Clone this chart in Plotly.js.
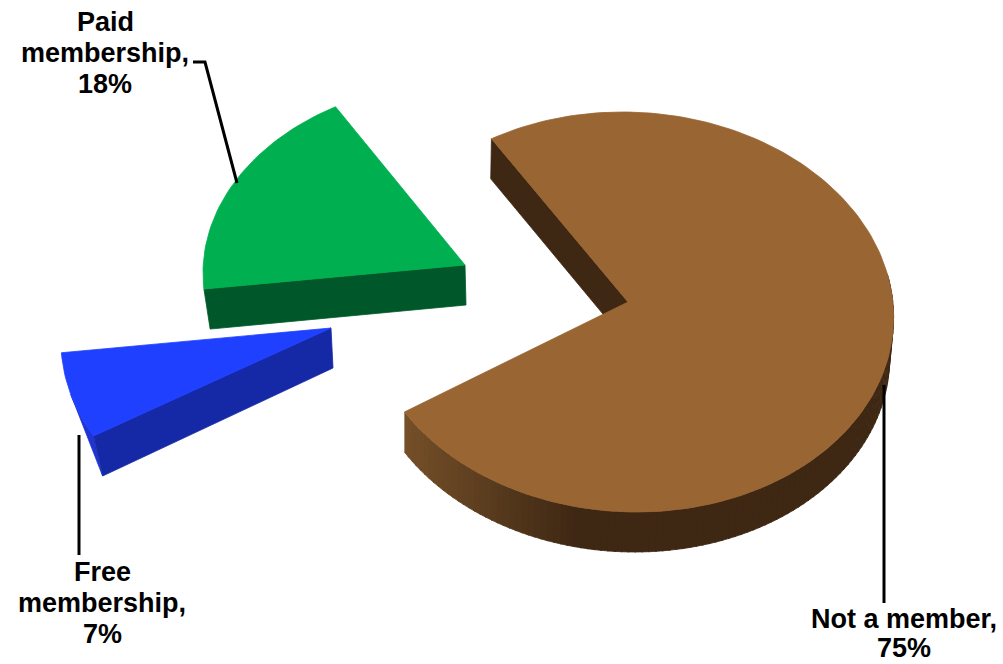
<!DOCTYPE html>
<html><head><meta charset="utf-8">
<script src="https://cdn.plot.ly/plotly-3.0.1.min.js"></script>
<style>html,body{margin:0;padding:0;background:#fff}#c{width:1003px;height:664px}</style>
</head><body><div id="c"></div>
<script>
// Data
const categories = ['Not a member', 'Free membership', 'Paid membership'];
const shares = [75, 7, 18];
const tickLabels = ['Not a member,<br>75%', 'Free<br>membership,<br>7%', 'Paid<br>membership,<br>18%'];

// Drawing style
const topColors = ['#996633', '#2040ff', '#00b050'];
const wallColors = ['#3e2713', '#1529a6', '#00582a'];
const START = 120, DEPTH = 40;
const placement = [
  {cx: 629.5, cy: 312, ax: 628, ay: 302, a: 264, b: 200, skew: 0.035, lean: 0.008, lx: -1.8},
  {cx: 326, cy: 336, ax: 331, ay: 328, a: 265, b: 200, skew: -0.03, lean: 0.03, lx: 2},
  {cx: 468, cy: 273, ax: 465, ay: 265, a: 265, b: 192, skew: 0, lean: 0.02, lx: 1}
];

const rad = d => d * Math.PI / 180;
const pt = (p, t) => { const dy = -p.b * Math.sin(rad(t));
  return [p.cx + p.a * Math.cos(rad(t)) + p.skew * dy, p.cy + dy]; };
const drop = (p, q) => [q[0] + p.lean * (p.ax - q[0]) + p.lx, q[1] + DEPTH];
function arc(p, t0, t1) { const n = Math.max(2, Math.ceil(Math.abs(t1 - t0) / 1.5)), o = [];
  for (let i = 0; i <= n; i++) o.push(pt(p, t0 + (t1 - t0) * i / n)); return o; }
function poly(pts, color, name) {
  return {type: 'scatter', mode: 'lines', x: pts.map(q => q[0]), y: pts.map(q => q[1]),
    fill: 'toself', fillcolor: color, line: {color: color, width: 0.8}, hoverinfo: 'skip',
    showlegend: false, name: name || ''};
}
function mix(c0, c1, f) { f = Math.min(1, Math.max(0, f));
  return 'rgb(' + c0.map((v, i) => Math.round(v + (c1[i] - v) * f)).join(',') + ')'; }

const total = shares.reduce((a, b) => a + b, 0);
const traces = [];
let angle = START;
const spans = shares.map(v => { const s = [angle, angle - v / total * 360]; angle = s[1]; return s; });

shares.forEach((v, i) => {
  const p = placement[i], [t0, t1] = spans[i];
  const apex = [p.ax, p.ay], s = pt(p, t0);
  if (i === 0) {
    // cut wall
    traces.push(poly([s, apex, drop(p, apex), drop(p, s), s], wallColors[0], categories[i]));
    // outer rim, shaded in strips
    const a0 = 360 + t1, a1 = 370, step = 1.5;
    for (let a = a0; a < a1; a += step) {
      const top = arc(p, a, a + step + 0.3), bot = top.map(q => drop(p, q)).reverse();
      traces.push(poly(top.concat(bot), mix([116, 79, 40], [62, 39, 19], (top[0][0] - 404) / 170), categories[i]));
    }
  } else if (i === 1) {
    const rimTop = arc(p, t0, t0 - 13);
    traces.push(poly(rimTop.concat([drop(p, s)]), '#1f34d2', categories[i]));
    traces.push(poly([s, apex, drop(p, apex), drop(p, s), s], wallColors[1], categories[i]));
  } else {
    traces.push(poly([s, apex, drop(p, apex), drop(p, s), s], wallColors[2], categories[i]));
  }
  traces.push(poly([apex].concat(arc(p, t0, t1), [apex]), topColors[i], categories[i]));
});

const leader = (xs, ys) => ({type: 'scatter', mode: 'lines', x: xs, y: ys,
  line: {color: '#000', width: 3}, hoverinfo: 'skip', showlegend: false});
traces.push(leader([193, 205, 237], [62, 62, 183]));
traces.push(leader([79, 79], [435, 555]));
traces.push(leader([884, 884], [385, 603]));

// one annotation per text line keeps the reference's tight line spacing
const notes = (text, x, y, gap) => text.split('<br>').map((t, k) => ({text: t, x, y: y + k * gap, xref: 'x', yref: 'y',
  showarrow: false, xanchor: 'center', yanchor: 'middle', align: 'center',
  font: {family: '"Liberation Sans", Arial, sans-serif', size: 27, color: '#000', weight: 700}}));

const layout = {
  width: 1003, height: 664, margin: {l: 0, r: 0, t: 0, b: 0},
  paper_bgcolor: '#fff', plot_bgcolor: '#fff', showlegend: false,
  xaxis: {range: [0, 1003], visible: false, fixedrange: true},
  yaxis: {range: [664, 0], visible: false, fixedrange: true},
  annotations: [...notes(tickLabels[0], 904, 619, 29), ...notes(tickLabels[1], 102, 572, 31), ...notes(tickLabels[2], 105, 22, 31)]
};
Plotly.newPlot('c', traces, layout, {displayModeBar: false, staticPlot: true});
</script>
</body></html>
